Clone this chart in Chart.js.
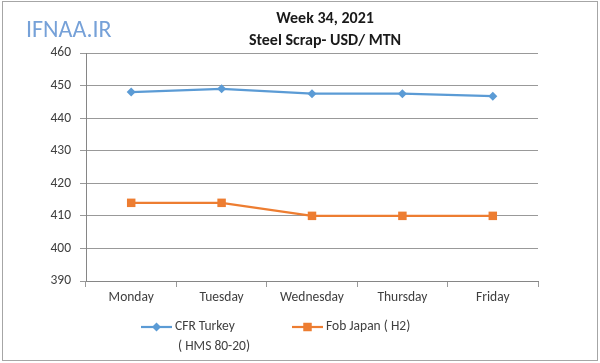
<!DOCTYPE html>
<html>
<head>
<meta charset="utf-8">
<title>Week 34, 2021 - Steel Scrap</title>
<script src="https://cdn.jsdelivr.net/npm/chart.js@4.4.0/dist/chart.umd.min.js"></script>
<style>
  html, body { margin: 0; padding: 0; background: #fff; }
  #wrap { width: 600px; height: 363px; }
</style>
</head>
<body>
<div id="wrap"><canvas id="scrapChart" width="600" height="363"></canvas></div>
<script>
// ---- data ----
const days = ['Monday', 'Tuesday', 'Wednesday', 'Thursday', 'Friday'];
const cfrTurkey = [448, 449, 447.5, 447.5, 446.75];
const fobJapan = [414, 414, 410, 410, 410];
const titleLines = ['Week 34, 2021', 'Steel Scrap- USD/ MTN'];
const seriesNames = [['CFR Turkey', ' ( HMS 80-20)'], ['Fob Japan ( H2)']];
const yMin = 390;
const yMax = 460;
const yStep = 10;

const FONT = 'Carlito, "Liberation Sans Narrow", Lato, sans-serif';
const BLUE = '#5b9bd5';
const ORANGE = '#ed7d31';
const TEXT = '#404040';

// draw a marker like the ones used on the lines
function drawMarker(ctx, style, x, y, r, color) {
    ctx.save();
    ctx.fillStyle = color;
    ctx.beginPath();
    if (style === 'rectRot') {
        ctx.moveTo(x, y - r);
        ctx.lineTo(x + r, y);
        ctx.lineTo(x, y + r);
        ctx.lineTo(x - r, y);
        ctx.closePath();
    } else {
        const s = r * Math.SQRT1_2;
        ctx.rect(x - s, y - s, 2 * s, 2 * s);
    }
    ctx.fill();
    ctx.restore();
}

/**
 * Frame, watermark, title and legend (Excel style)
 */
const excelDecor = {
    id: 'excelDecor',
    beforeDraw(chart) {
        const ctx = chart.ctx;
        ctx.save();
        ctx.fillStyle = '#ffffff';
        ctx.fillRect(0, 0, chart.width, chart.height);
        ctx.strokeStyle = '#a6a6a6';
        ctx.lineWidth = 1;
        ctx.strokeRect(2.5, 1.5, chart.width - 5, chart.height - 4);
        ctx.restore();
    },
    afterDraw(chart) {
        const ctx = chart.ctx;
        ctx.save();

        // watermark
        ctx.font = '24px ' + FONT;
        ctx.fillStyle = '#76a1d8';
        ctx.textAlign = 'left';
        ctx.textBaseline = 'middle';
        ctx.fillText('IFNAA.IR', 26, 31);

        // title
        ctx.font = 'bold 16px ' + FONT;
        ctx.fillStyle = '#1a1a1a';
        ctx.textAlign = 'center';
        titleLines.forEach((line, i) => ctx.fillText(line, 325, 19 + i * 22));

        // legend
        const items = [{ x: 141, y: 327 }, { x: 292, y: 327 }];
        ctx.font = '13.5px ' + FONT;
        ctx.textAlign = 'left';
        chart.data.datasets.forEach((ds, i) => {
            const it = items[i];
            ctx.strokeStyle = ds.borderColor;
            ctx.lineWidth = ds.borderWidth;
            ctx.beginPath();
            ctx.moveTo(it.x, it.y);
            ctx.lineTo(it.x + 31, it.y);
            ctx.stroke();
            drawMarker(ctx, ds.pointStyle, it.x + 15.5, it.y, ds.pointRadius, ds.borderColor);
            ctx.fillStyle = TEXT;
            seriesNames[i].forEach((t, j) => ctx.fillText(t, it.x + 34, it.y + j * 20));
        });
        ctx.restore();
    }
};

const ctx = document.getElementById('scrapChart');
new Chart(ctx, {
    type: 'line',
    data: {
        labels: days,
        datasets: [
            {
                label: seriesNames[0].join(' '),
                data: cfrTurkey,
                borderColor: BLUE,
                backgroundColor: BLUE,
                borderWidth: 2.2,
                pointStyle: 'rectRot',
                pointRadius: 4.5,
                pointBorderWidth: 0,
                tension: 0
            },
            {
                label: seriesNames[1].join(' '),
                data: fobJapan,
                borderColor: ORANGE,
                backgroundColor: ORANGE,
                borderWidth: 2.2,
                pointStyle: 'rect',
                pointRadius: 6,
                pointBorderWidth: 0,
                tension: 0
            }
        ]
    },
    options: {
        responsive: false,
        animation: false,
        devicePixelRatio: 1,
        layout: { padding: { top: 53, right: 62, bottom: 58, left: 0 } },
        plugins: {
            legend: { display: false },
            title: { display: false },
            tooltip: { enabled: false }
        },
        scales: {
            x: {
                offset: true,
                grid: { drawOnChartArea: false, tickLength: 6, color: '#999999', offset: true },
                border: { color: '#868686' },
                ticks: { color: TEXT, padding: 3, font: { family: FONT, size: 13.5 } },
                afterFit: (scale) => { scale.height = 24; }
            },
            y: {
                min: yMin,
                max: yMax,
                grid: { color: '#999999', tickLength: 6 },
                border: { color: '#868686' },
                ticks: { stepSize: yStep, color: TEXT, padding: 9, font: { family: FONT, size: 13.5 } },
                afterFit: (scale) => { scale.width = 86; }
            }
        }
    },
    plugins: [excelDecor]
});
</script>
</body>
</html>
